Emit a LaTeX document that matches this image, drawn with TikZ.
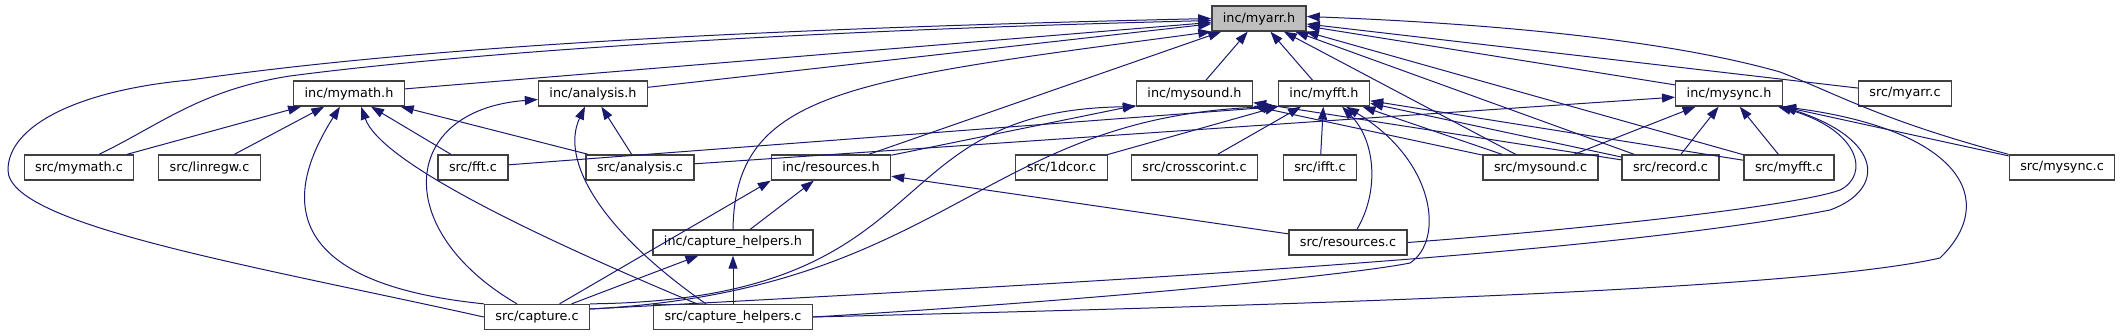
\documentclass[tikz,border=0pt]{standalone}
\usepackage{fontspec}
\newfontfamily\dejavu{DejaVu Sans}
\usetikzlibrary{arrows.meta}

\definecolor{edgeblue}{HTML}{191970}
\definecolor{boxline}{HTML}{404040}
\definecolor{boxgray}{HTML}{BFBFBF}

\tikzset{
  file/.style={draw=boxline, line width=1.3pt, fill=white, minimum height=25pt,
    inner xsep=11pt, inner ysep=0pt, font={\dejavu\fontsize{12.8}{15}\selectfont}},
  dep/.style={draw=edgeblue, line width=1pt, -{Triangle[length=13pt,width=9pt]}}
}

\begin{document}
\begin{tikzpicture}[x=1pt, y=-1pt]
  \useasboundingbox[fill=white] (0,0) rectangle (2124,336);
  % Headers
  \node[file, fill=boxgray] (myarr) at (1259,18.5) {inc/myarr.h};
  \node[file] (mymathh)   at (349,93.5)    {inc/mymath.h};
  \node[file] (analysish) at (593,93.5)    {inc/analysis.h};
  \node[file] (mysoundh)  at (1194.5,93.5) {inc/mysound.h};
  \node[file] (myffth)    at (1324,93.5)   {inc/myfft.h};
  \node[file] (mysynch)   at (1729,93.5)   {inc/mysync.h};
  \node[file] (myarrc)    at (1905,93.5)   {src/myarr.c};
  % Middle row
  \node[file] (mymathc)      at (79,167.5)     {src/mymath.c};
  \node[file] (linregwc)     at (209.5,167.5)  {src/linregw.c};
  \node[file] (fftc)         at (473,167.5)    {src/fft.c};
  \node[file] (analysisc)    at (640,167.5)    {src/analysis.c};
  \node[file] (resourcesh)   at (831,167.5)    {inc/resources.h};
  \node[file] (dcorc)        at (1061.5,167.5) {src/1dcor.c};
  \node[file] (crosscorintc) at (1194.5,167.5) {src/crosscorint.c};
  \node[file] (ifftc)        at (1320,167.5)   {src/ifft.c};
  \node[file] (mysoundc)     at (1540.5,167.5) {src/mysound.c};
  \node[file] (recordc)      at (1670.5,167.5) {src/record.c};
  \node[file] (myfftc)       at (1789,167.5)   {src/myfft.c};
  \node[file] (mysyncc)      at (2062,167.5)   {src/mysync.c};
  % Bottom rows
  \node[file] (helpersh)   at (733,242.5)  {inc/capture\_helpers.h};
  \node[file] (resourcesc) at (1348,242.5) {src/resources.c};
  \node[file] (capturec)   at (537,317)    {src/capture.c};
  \node[file] (helpersc)   at (733,317)    {src/capture\_helpers.c};

  % Straight includes
  \foreach \a/\b in {mymathh/myarr, analysish/myarr, resourcesh/myarr, mysoundh/myarr,
      myffth/myarr, mysynch/myarr, myarrc/myarr, mysoundc/myarr, recordc/myarr, myfftc/myarr,
      mymathc/mymathh, linregwc/mymathh, fftc/mymathh, analysisc/mymathh, analysisc/analysish,
      helpersh/resourcesh, resourcesc/resourcesh, capturec/helpersh, helpersc/helpersh,
      resourcesh/mysoundh, mysoundc/mysoundh, recordc/mysoundh,
      crosscorintc/myffth, ifftc/myffth, mysoundc/myffth, recordc/myffth, myfftc/myffth,
      analysisc/mysynch, mysoundc/mysynch, recordc/mysynch, myfftc/mysynch} {
    \draw[dep] (\a) -- (\b);
  }
  \draw[dep] (fftc) -- (myffth.south west);
  \draw[dep] (dcorc) -- (myffth.south west);
  \draw[dep] (capturec) -- (resourcesh.south west);
  \draw[dep] (mysyncc) -- (mysynch.south east);

  % Long curves into inc/myarr.h
  \draw[dep] (capturec.west) .. controls (250,265) and (8,225) .. (8,170)
    .. controls (8,125) and (80,90) .. (190,80) .. controls (400,50) and (700,30) .. (myarr.west);
  \draw[dep] ([xshift=20pt]mymathc.north) .. controls (160,125) and (200,90) .. (290,76)
    .. controls (450,55) and (750,32) .. ([yshift=-2pt]myarr.west);
  \draw[dep] (helpersh.north) .. controls (735,90) and (850,80) .. (myarr.south west);
  \draw[dep] (mysyncc.north west) .. controls (1880,120) and (1840,95) .. (1780,72)
    .. controls (1650,35) and (1450,22) .. ([yshift=2pt]myarr.east);

  % Curves into inc/mymath.h and inc/analysis.h
  \draw[dep] (capturec.north west) .. controls (250,280) and (300,170) .. ([xshift=-9pt]mymathh.south);
  \draw[dep] ([xshift=-36pt]helpersc.north) .. controls (520,230) and (380,160) .. ([xshift=12pt]mymathh.south);
  \draw[dep] ([xshift=-20pt]capturec.north) .. controls (390,230) and (400,110) .. ([yshift=-6pt]analysish.west);
  \draw[dep] ([xshift=-27pt]helpersc.north) .. controls (600,230) and (560,160) .. ([xshift=-8pt]analysish.south);

  % Curves into inc/mysound.h and inc/myfft.h
  \draw[dep] (capturec.north east) .. controls (950,300) and (870,110) .. (mysoundh.south west);
  \draw[dep] ([yshift=8pt]capturec.east) .. controls (950,290) and (980,115) .. (myffth.south west);
  \draw[dep] ([xshift=9pt]resourcesc.north) .. controls (1380,190) and (1375,140) .. ([xshift=18pt]myffth.south);
  \draw[dep] (helpersc.east) .. controls (1100,300) and (1350,275) .. (1410,263)
    .. controls (1445,240) and (1435,160) .. ([xshift=22pt]myffth.south);

  % Curves into inc/mysync.h
  \draw[dep] (resourcesc.east) .. controls (1600,228) and (1800,205) .. (1840,190)
    .. controls (1870,175) and (1860,130) .. ([xshift=-5pt]mysynch.south east);
  \draw[dep] ([yshift=8pt]capturec.east) .. controls (1100,282) and (1600,255) .. (1830,210)
    .. controls (1885,190) and (1885,140) .. (mysynch.south east);
  \draw[dep] (helpersc.east) .. controls (1300,305) and (1800,290) .. (1940,258)
    .. controls (2000,200) and (1960,130) .. (mysynch.south east);
\end{tikzpicture}
\end{document}
